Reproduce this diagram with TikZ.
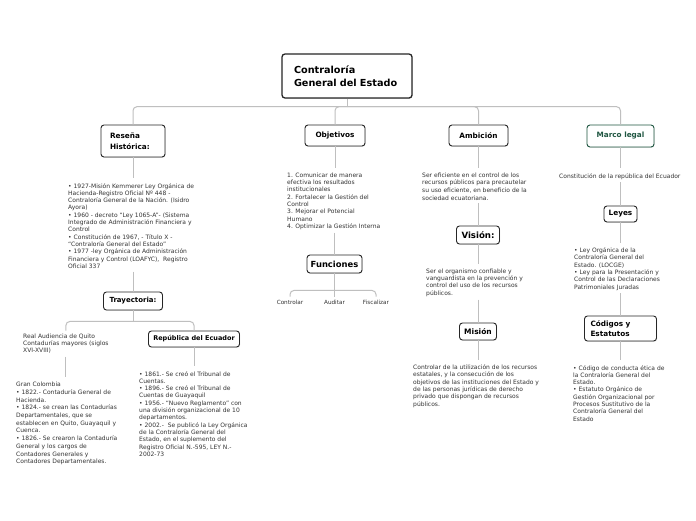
\documentclass[tikz,border=0pt]{standalone}
\usepackage{fontspec}
\setmainfont{DejaVu Sans}
\usetikzlibrary{shadows}
\definecolor{legalgreen}{HTML}{1F5641}

\begin{document}
\begin{tikzpicture}[x=1pt,y=-1pt,
  box/.style={draw=black!85, rounded corners=3pt, line width=0.9pt, fill=white,
    drop shadow={opacity=0.25,shadow xshift=0.5pt,shadow yshift=-0.8pt},
    font=\bfseries\fontsize{7.3}{8}\selectfont, inner sep=0pt, align=center},
  txt/.style={anchor=north west, inner sep=0pt, align=left, text=black!80,
    font=\fontsize{6}{7.3}\selectfont},
  leaf/.style={inner sep=3pt, text=black!80, font=\fontsize{5.7}{7}\selectfont},
  conn/.style={draw=black!25, line width=1pt, rounded corners=4pt},
  totext/.style={conn, shorten >=5pt},
  fromtext/.style={conn, shorten <=3pt}]
\useasboundingbox[fill=white] (0,0) rectangle (696,520);

% boxes
\node[box, line width=1.3pt, minimum width=130, minimum height=44, text width=106, align=left,
  font=\bfseries\fontsize{9.7}{12.5}\selectfont] (root) at (347,76) {Contraloría\\General del Estado};
\node[box, minimum width=64, minimum height=32, text width=46, align=left,
  font=\bfseries\fontsize{7.3}{11}\selectfont] (resena) at (133,141) {Reseña\\Histórica:};
\node[box, minimum width=60, minimum height=21] (objetivos) at (335,135.5) {Objetivos};
\node[box, minimum width=59, minimum height=21] (ambicion) at (478.5,135.5) {Ambición};
\node[box, draw=legalgreen, text=legalgreen, minimum width=67, minimum height=22] (marco) at (620.5,136) {Marco legal};
\node[box, minimum width=55, minimum height=18, font=\bfseries\fontsize{8.4}{9}\selectfont] (funciones) at (334.5,264) {Funciones};
\node[box, minimum width=59, minimum height=18, font=\bfseries\fontsize{7}{8}\selectfont] (trayectoria) at (133,301) {Trayectoria:};
\node[box, minimum width=91, minimum height=16, font=\bfseries\fontsize{6.5}{8}\selectfont] (republica) at (194,339) {República del Ecuador};
\node[box, minimum width=43, minimum height=18, font=\bfseries\fontsize{8.6}{9}\selectfont] (vision) at (478,235) {Visión:};
\node[box, minimum width=37, minimum height=17, font=\bfseries\fontsize{7.5}{8}\selectfont] (mision) at (478,331.5) {Misión};
\node[box, minimum width=33, minimum height=16] (leyes) at (620.5,214) {Leyes};
\node[box, minimum width=72, minimum height=25, text width=60, align=left,
  font=\bfseries\fontsize{7.3}{9.5}\selectfont] (codigos) at (620.5,328.5) {Códigos y\\Estatutos};

% texts
\node[txt] (hist) at (68,183) {• 1927-Misión Kemmerer Ley Orgánica de\\Hacienda-Registro Oficial Nº 448 -\\Contraloría General de la Nación. (Isidro\\Ayora)\\• 1960 - decreto “Ley 1065-A”- (Sistema\\Integrado de Administración Financiera y\\Control\\• Constitución de 1967, - Título X -\\“Contraloría General del Estado”\\• 1977 -ley Orgánica de Administración\\Financiera y Control (LOAFYC),~ Registro\\Oficial 337};
\node[txt] (taud) at (23,333.5) {Real Audiencia de Quito\\Contadurías mayores (siglos\\XVI-XVIII)};
\node[txt, font=\fontsize{6}{7.7}\selectfont] (tgran) at (16,382) {Gran Colombia\\• 1822.- Contaduría General de\\Hacienda.\\• 1824.- se crean las Contadurías\\Departamentales, que se\\establecen en Quito, Guayaquil y\\Cuenca.\\• 1826.- Se crearon la Contaduría\\General y los cargos de\\Contadores Generales y\\Contadores Departamentales.};
\node[txt] (trep) at (139,371) {• 1861.- Se creó el Tribunal de\\Cuentas.\\• 1896.- Se creó el Tribunal de\\Cuentas de Guayaquil\\• 1956.- “Nuevo Reglamento” con\\una división organizacional de 10\\departamentos.\\• 2002.-~ Se publicó la Ley Orgánica\\de la Contraloría General del\\Estado, en el suplemento del\\Registro Oficial N.-595, LEY N.-\\2002-73};
\node[txt] (tobj) at (287,172.5) {1. Comunicar de manera\\efectiva los resultados\\institucionales\\2. Fortalecer la Gestión del\\Control\\3. Mejorar el Potencial\\Humano\\4. Optimizar la Gestión Interna};
\node[leaf] (controlar) at (290,302) {Controlar};
\node[leaf] (auditar) at (334.5,302) {Auditar};
\node[leaf] (fiscalizar) at (376,302) {Fiscalizar};
\node[txt, font=\fontsize{6}{7.6}\selectfont] (tamb) at (422,172.5) {Ser eficiente en el control de los\\recursos públicos para precautelar\\su uso eficiente, en beneficio de la\\sociedad ecuatoriana.};
\node[txt] (tvis) at (426,268.5) {Ser el organismo confiable y\\vanguardista en la prevención y\\control del uso de los recursos\\públicos.};
\node[txt] (tmis) at (413,364.5) {Controlar de la utilización de los recursos\\estatales, y la consecución de los\\objetivos de las instituciones del Estado y\\de las personas jurídicas de derecho\\privado que dispongan de recursos\\públicos.};
\node[txt] (tconst) at (559,173) {Constitución de la república del Ecuador};
\node[txt] (tley) at (574,247.5) {• Ley Orgánica de la\\Contraloría General del\\Estado. (LOCGE)\\• Ley para la Presentación y\\Control de las Declaraciones\\Patrimoniales Juradas};
\node[txt] (tcod) at (573,365) {• Código de conducta ética de\\la Contraloría General del\\Estado.\\• Estatuto Orgánico de\\Gestión Organizacional por\\Procesos Sustitutivo de la\\Contraloría General del\\Estado};

% connectors
\draw[conn] (root.south) -- ++(0,8) coordinate (hub);
\draw[conn] (hub) -| (resena);
\draw[conn] (hub) -| (objetivos);
\draw[conn] (hub) -| (ambicion);
\draw[conn] (hub) -| (marco);

\draw[totext] (resena) -- (resena |- hist.north);
\draw[fromtext] (trayectoria |- hist.south) -- (trayectoria);
\draw[conn] (trayectoria.south) -- ++(0,11) coordinate (thub);
\draw[conn, shorten >=3pt] (thub) -| (taud);
\draw[conn] (thub) -| (republica);
\draw[totext, shorten <=3pt] (taud.south) -- (taud.south |- tgran.north);
\draw[totext] (republica) -- (republica |- trep.north);

\draw[totext] (objetivos) -- (objetivos |- tobj.north);
\draw[fromtext] (funciones |- tobj.south) -- (funciones);
\draw[conn] (funciones.south) -- ++(0,17) coordinate (fhub);
\draw[conn] (fhub) -| (controlar);
\draw[conn] (fhub) -| (auditar);
\draw[conn] (fhub) -| (fiscalizar);

\draw[totext] (ambicion) -- (ambicion |- tamb.north);
\draw[fromtext] (vision |- tamb.south) -- (vision);
\draw[totext] (vision) -- (vision |- tvis.north);
\draw[fromtext] (mision |- tvis.south) -- (mision);
\draw[totext] (mision) -- (mision |- tmis.north);

\draw[totext] (marco) -- (marco |- tconst.north);
\draw[fromtext] (leyes |- tconst.south) -- (leyes);
\draw[totext] (leyes) -- (leyes |- tley.north);
\draw[fromtext] (codigos |- tley.south) -- (codigos);
\draw[totext] (codigos) -- (codigos |- tcod.north);
\end{tikzpicture}
\end{document}
